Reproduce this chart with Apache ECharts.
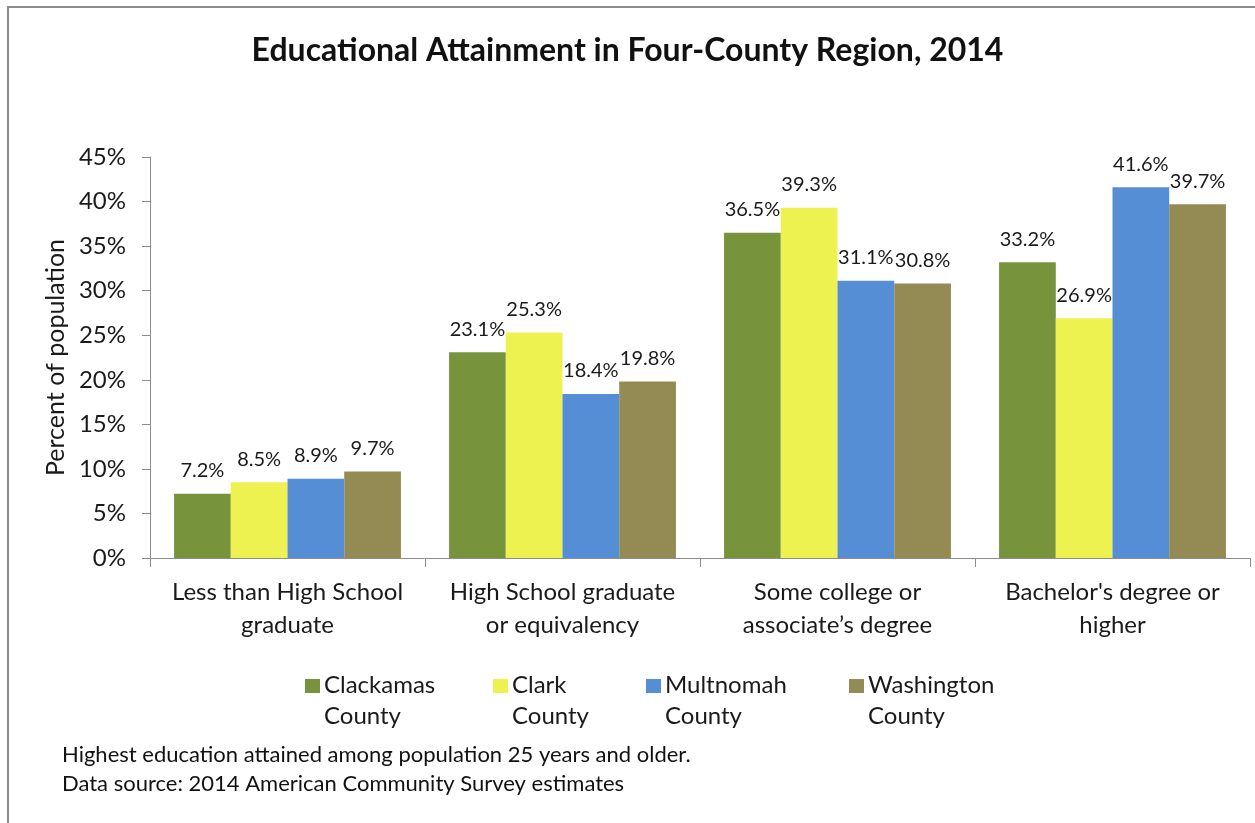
<!DOCTYPE html>
<html>
<head>
<meta charset="utf-8">
<title>Educational Attainment in Four-County Region, 2014</title>
<script src="https://cdn.jsdelivr.net/npm/echarts@6/dist/echarts.min.js"></script>
<style>
  html, body { margin: 0; padding: 0; background: #ffffff; }
  #chart { width: 1255px; height: 823px; }
</style>
</head>
<body>
<div id="chart"></div>
<script>
// Education levels (x categories)
const categories = [
  'Less than High School\ngraduate',
  'High School graduate\nor equivalency',
  'Some college or\nassociate\u2019s degree',
  "Bachelor's degree or\nhigher"
];

// County names as shown in the legend
const counties = ['Clackamas\nCounty', 'Clark\nCounty', 'Multnomah\nCounty', 'Washington\nCounty'];

// Percent of population 25+ by highest education attained
const clackamas  = [7.2, 23.1, 36.5, 33.2];
const clark      = [8.5, 25.3, 39.3, 26.9];
const multnomah  = [8.9, 18.4, 31.1, 41.6];
const washington = [9.7, 19.8, 30.8, 39.7];

// Value axis ticks
const yTicks = [0, 5, 10, 15, 20, 25, 30, 35, 40, 45];

const seriesValues = [clackamas, clark, multnomah, washington];
const colors = ['#77933C', '#EEF250', '#558ED5', '#948A54'];

const FONT = 'Lato, "Open Sans", sans-serif';
const TEXT = '#1a1a1a';

// Square legend marker pinned to the first text line
const legendIcon = 'path://M0,0L15,0L15,14L0,14Z M0,44L0.01,44';
const legendLefts = [305, 493, 646, 849];

const chart = echarts.init(document.getElementById('chart'), null, { renderer: 'canvas' });

const option = {
  backgroundColor: '#ffffff',
  animation: false,
  title: {
    text: 'Educational Attainment in Four-County Region, 2014',
    left: 'center',
    top: 30,
    textStyle: { fontFamily: FONT, fontSize: 32, fontWeight: 'bold', color: '#111' }
  },
  legend: counties.map((name, i) => ({
    data: [name],
    left: legendLefts[i],
    top: 670,
    padding: 0,
    icon: legendIcon,
    itemWidth: 15,
    itemHeight: 44,
    itemGap: 0,
    selectedMode: false,
    textStyle: { fontFamily: FONT, fontSize: 24, lineHeight: 31, color: TEXT, padding: [0, 0, 0, -1] }
  })),
  grid: { left: 150, right: 5, top: 157, bottom: 265, containLabel: false },
  xAxis: {
    type: 'category',
    data: categories,
    axisLine: { lineStyle: { color: '#8c8c8c', width: 1 } },
    axisTick: { show: true, length: 9, lineStyle: { color: '#8c8c8c' } },
    axisLabel: {
      interval: 0, margin: 18, fontFamily: FONT, fontSize: 24, lineHeight: 33, color: TEXT
    },
    splitLine: { show: false }
  },
  yAxis: {
    type: 'value',
    min: yTicks[0],
    max: yTicks[yTicks.length - 1],
    interval: yTicks[1] - yTicks[0],
    name: 'Percent of population',
    nameLocation: 'middle',
    nameGap: 73,
    nameRotate: 90,
    nameTextStyle: { fontFamily: FONT, fontSize: 25, color: TEXT },
    axisLine: { show: true, lineStyle: { color: '#8c8c8c', width: 1 } },
    axisTick: { show: true, length: 8, lineStyle: { color: '#8c8c8c' } },
    axisLabel: {
      margin: 24, fontFamily: FONT, fontSize: 24, color: TEXT,
      formatter: v => v + '%'
    },
    splitLine: { show: false }
  },
  series: seriesValues.map((vals, i) => ({
    name: counties[i],
    type: 'bar',
    data: vals,
    barGap: '0%',
    barCategoryGap: '17.5%',
    itemStyle: { color: colors[i] },
    label: {
      show: true,
      position: 'top',
      distance: 13,
      fontFamily: FONT,
      fontSize: 20,
      color: TEXT,
      formatter: p => p.value.toFixed(1) + '%'
    }
  })),
  graphic: [
    {
      type: 'rect',
      silent: true,
      shape: { x: 8, y: 7, width: 1400, height: 1000 },
      style: { fill: 'none', stroke: '#8c8c8c', lineWidth: 2 }
    },
    {
      type: 'text',
      left: 62,
      top: 744,
      style: {
        text: 'Highest education attained among population 25 years and older.',
        fontFamily: FONT, fontSize: 22, fill: '#111'
      }
    },
    {
      type: 'text',
      left: 62,
      top: 773,
      style: {
        text: 'Data source: 2014 American Community Survey estimates',
        fontFamily: FONT, fontSize: 22, fill: '#111'
      }
    }
  ]
};

chart.setOption(option);
</script>
</body>
</html>
